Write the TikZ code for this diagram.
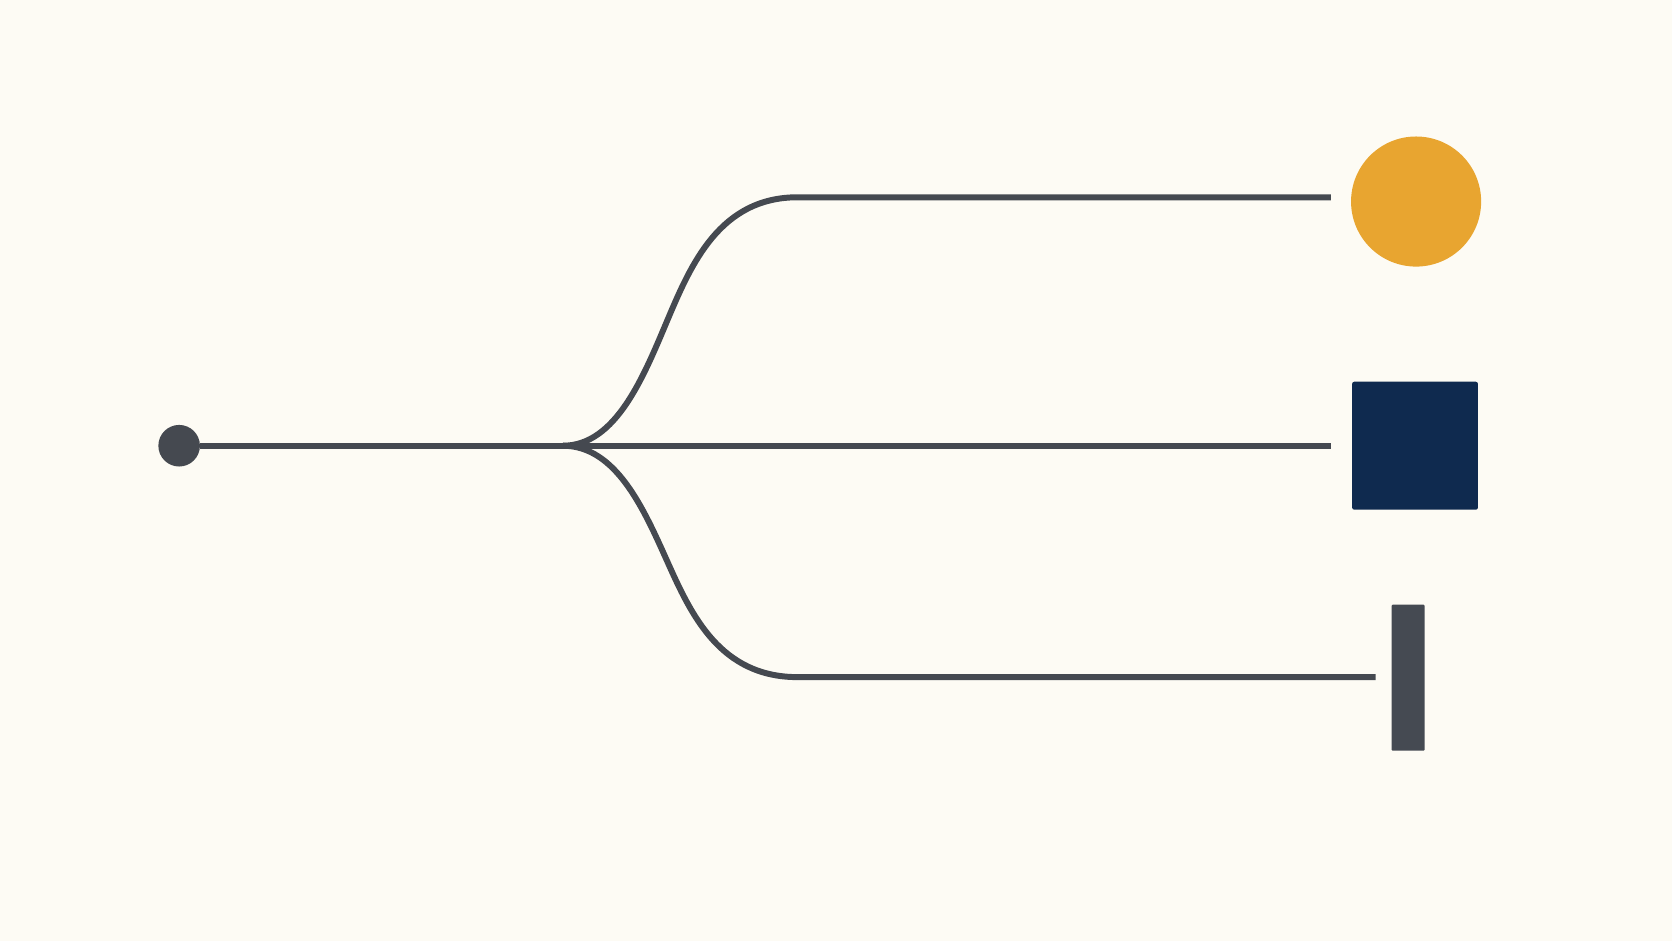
\documentclass[tikz,border=0pt]{standalone}
\definecolor{bgc}{HTML}{FDFBF4}
\definecolor{linec}{HTML}{454950}
\definecolor{orangec}{HTML}{E8A530}
\definecolor{navyc}{HTML}{0F2A4F}
\definecolor{barc}{HTML}{454A52}
\tikzset{
  wire/.style={draw=linec, line width=2.8pt},
  srcdot/.style={circle, fill=linec, inner sep=0pt, minimum size=19.5pt},
  ballnode/.style={circle, fill=orangec, inner sep=0pt, minimum size=61pt},
  boxnode/.style={rectangle, fill=navyc, rounded corners=1pt, inner sep=0pt, minimum width=59pt, minimum height=60pt},
  barnode/.style={rectangle, fill=barc, rounded corners=0.5pt, inner sep=0pt, minimum width=15.5pt, minimum height=68.5pt}
}
\begin{document}
\begin{tikzpicture}[x=0.5pt,y=-0.5pt]
\fill[bgc] (0,0) rectangle (1568,882);
\useasboundingbox (0,0) rectangle (1568,882);
\node[srcdot] (src) at (168,418) {};
\coordinate (j) at (528,418);
\node[ballnode] (ball) at (1328,189) {};
\node[boxnode] (box) at (1327,418) {};
\node[barnode] (bar) at (1320.5,635.5) {};
\coordinate (e1) at (1248,185);
\coordinate (e2) at (1248,418);
\coordinate (e3) at (1290,635);
\draw[wire] (src) -- (e2);
\draw[wire] (j) .. controls (578,418) and (604,352) .. (626,300)
  .. controls (648,248) and (675,185) .. (748,185) -- (e1);
\draw[wire] (j) .. controls (578,418) and (604,478) .. (626,527)
  .. controls (648,576) and (675,635) .. (748,635) -- (e3);
\end{tikzpicture}
\end{document}
